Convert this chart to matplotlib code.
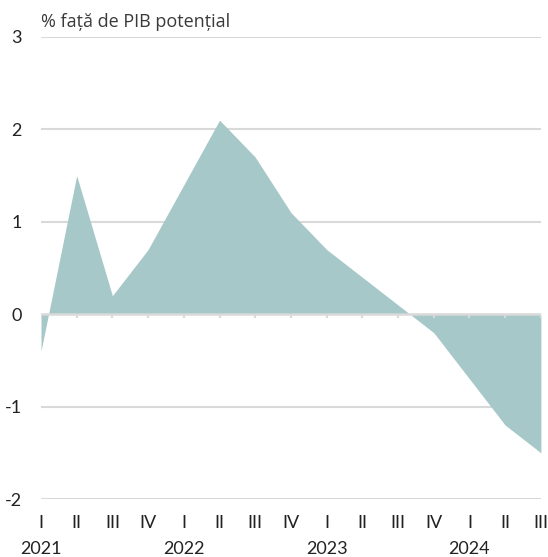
import matplotlib
matplotlib.use("Agg")
import matplotlib.pyplot as plt

quarters = ["I", "II", "III", "IV", "I", "II", "III", "IV", "I", "II", "III", "IV", "I", "II", "III"]
years = ["2021", "2022", "2023", "2024"]
output_gap = [-0.4, 1.5, 0.2, 0.7, 1.4, 2.1, 1.7, 1.1, 0.7, 0.4, 0.1, -0.2, -0.7, -1.2, -1.5]
y_ticks = [3, 2, 1, 0, -1, -2]

plt.rcParams["font.family"] = ["Lato", "DejaVu Sans"]

fig = plt.figure(figsize=(5.48, 5.57), dpi=100)
ax = fig.add_axes([0.0748, 0.1041, 0.9122, 0.8295])

x = list(range(len(output_gap)))
ax.set_xlim(0, len(output_gap) - 1)
ax.set_ylim(-2, 3)

grid_c = "#d9d9d9"
for v in y_ticks:
    if v != 0:
        ax.axhline(v, color=grid_c, lw=1.5, zorder=1)

ax.fill_between(x, output_gap, 0, color="#a7c8c8", lw=0, zorder=2)

# zero line with quarter ticks
ax.axhline(0, color=grid_c, lw=1.8, zorder=3)
ax.vlines(x, -0.045, 0, color=grid_c, lw=1.6, zorder=3)

for s in ax.spines.values():
    s.set_visible(False)

ax.set_yticks(y_ticks)
ax.set_yticklabels([str(v) for v in y_ticks], fontsize=13, color="#222222")
ax.tick_params(axis="y", length=0, pad=14)
ax.set_xticks([])

xt = ax.get_xaxis_transform()
for i, q in enumerate(quarters):
    ax.text(i, -0.052, q, transform=xt, ha="center", va="center", fontsize=13, color="#222222")
for i, yr in enumerate(years):
    ax.text(i * 4, -0.108, yr, transform=xt, ha="center", va="center",
            fontsize=13, color="#222222")

fig.text(41 / 548, 1 - 22 / 557, "% față de PIB potențial", fontsize=13, color="#3a3a3a",
         ha="left", va="center", family=["Open Sans", "DejaVu Sans"])

fig.savefig("out.png", dpi=100)
